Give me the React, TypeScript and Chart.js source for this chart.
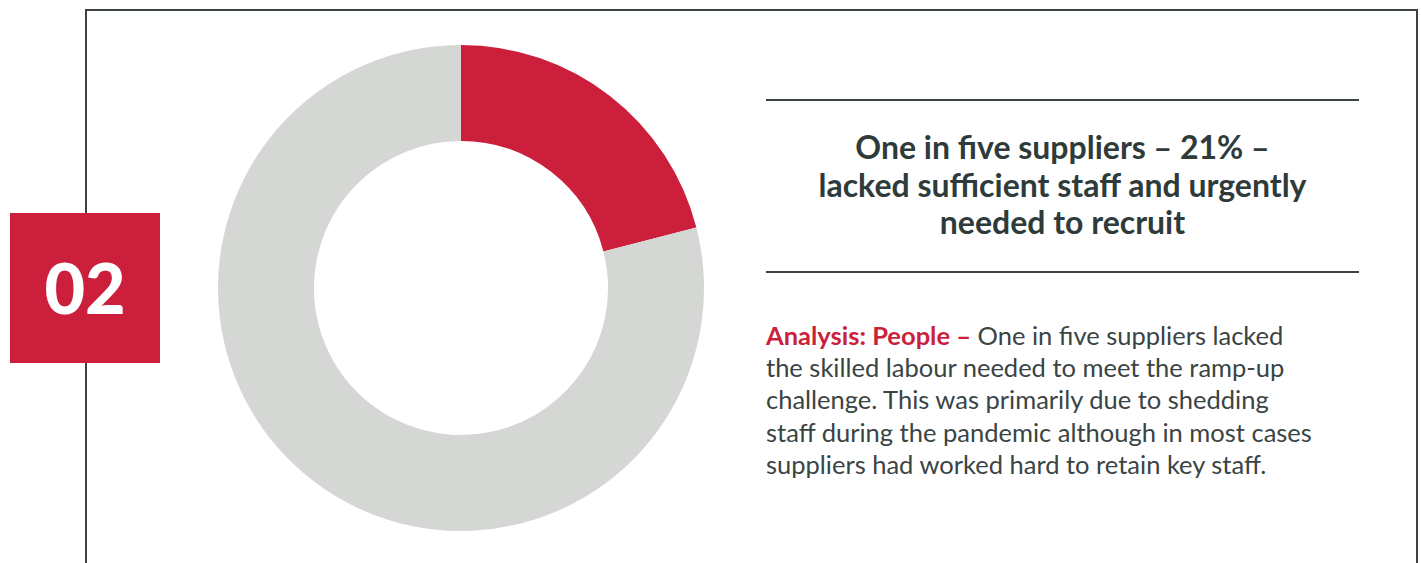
import React, { useEffect, useRef } from "react";
import { Chart, registerables } from "chart.js";

Chart.register(...registerables);

const categories = ["Lacked sufficient staff, urgently needed to recruit", "Other suppliers"];
const shares = [21, 79];
const sliceColors = ["#cb1f3c", "#d5d7d4"];

const badgeLabel = "02";
const titleLines = ["One in five suppliers – 21% –", "lacked sufficient staff and urgently", "needed to recruit"];
const bodyLead = "Analysis: People –";
const bodyLines = [
  "One in five suppliers lacked",
  "the skilled labour needed to meet the ramp-up",
  "challenge. This was primarily due to shedding",
  "staff during the pandemic although in most cases",
  "suppliers had worked hard to retain key staff.",
];

const RED = "#cb1f3c";
const DARK = "#2f3b3b";
const FRAME = "#3b4343";

export default function App() {
  const canvasRef = useRef<HTMLCanvasElement | null>(null);

  useEffect(() => {
    document.body.style.margin = "0";
    const ctx = canvasRef.current;
    if (!ctx) return;
    const chart = new Chart(ctx, {
      type: "doughnut",
      data: {
        labels: categories,
        datasets: [
          {
            data: shares,
            backgroundColor: sliceColors,
            borderWidth: 0,
            hoverOffset: 0,
          },
        ],
      },
      options: {
        animation: false,
        responsive: false,
        maintainAspectRatio: false,
        cutout: "60.5%",
        layout: { padding: 0 },
        plugins: {
          legend: { display: false },
          tooltip: { enabled: false },
          title: { display: false },
        },
      },
    });
    return () => chart.destroy();
  }, []);

  return (
    <div
      style={{
        position: "absolute",
        left: 0,
        top: 0,
        width: 1421,
        height: 563,
        overflow: "hidden",
        background: "#ffffff",
        fontFamily: "Lato, 'Noto Sans', sans-serif",
      }}
    >
      {/* frame */}
      <div
        style={{
          position: "absolute",
          left: 85,
          top: 9,
          width: 1329,
          height: 600,
          borderLeft: `2px solid ${FRAME}`,
          borderTop: `2px solid ${FRAME}`,
          borderRight: `2px solid ${FRAME}`,
        }}
      />
      {/* badge */}
      <div
        style={{
          position: "absolute",
          left: 10,
          top: 213,
          width: 150,
          height: 150,
          background: RED,
          color: "#ffffff",
          fontWeight: 900,
          fontSize: 70,
          display: "flex",
          alignItems: "center",
          justifyContent: "center",
          lineHeight: 1,
        }}
      >
        <span style={{ position: "relative", top: -1 }}>{badgeLabel}</span>
      </div>
      {/* chart */}
      <canvas
        ref={canvasRef}
        width={486}
        height={486}
        style={{ position: "absolute", left: 218, top: 45, width: 486, height: 486 }}
      />
      {/* rules */}
      <div style={{ position: "absolute", left: 766, top: 99, width: 593, height: 2, background: FRAME }} />
      <div style={{ position: "absolute", left: 766, top: 271, width: 593, height: 2, background: FRAME }} />
      {/* title */}
      <div
        style={{
          position: "absolute",
          left: 766,
          top: 128,
          width: 593,
          textAlign: "center",
          color: DARK,
          fontWeight: 700,
          fontSize: 32,
          lineHeight: "37.5px",
          whiteSpace: "nowrap",
        }}
      >
        {titleLines.map((l, i) => (
          <div key={i}>{l}</div>
        ))}
      </div>
      {/* body */}
      <div
        style={{
          position: "absolute",
          left: 766,
          top: 319,
          color: "#3a4444",
          fontSize: 25.5,
          lineHeight: "32.2px",
          whiteSpace: "nowrap",
        }}
      >
        {bodyLines.map((l, i) => (
          <div key={i}>
            {i === 0 ? (
              <>
                <span style={{ color: RED, fontWeight: 700 }}>{bodyLead}</span>{" "}
              </>
            ) : null}
            {l}
          </div>
        ))}
      </div>
    </div>
  );
}
